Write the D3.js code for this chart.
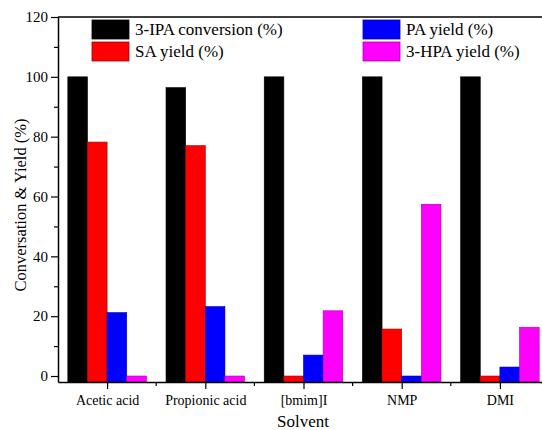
<!DOCTYPE html>
<html>
<head>
<meta charset="utf-8">
<script src="https://cdn.jsdelivr.net/npm/d3@7/dist/d3.min.js"></script>
<style>
  html, body { margin: 0; padding: 0; background: #fff; }
  svg { display: block; }
</style>
</head>
<body>
<svg id="chart" width="542" height="430" font-family="Liberation Serif"></svg>
<script>
// Solvent screening: conversion of 3-IPA and product yields
const solvents = ["Acetic acid", "Propionic acid", "[bmim]I", "NMP", "DMI"];
const seriesNames = ["3-IPA conversion (%)", "SA yield (%)", "PA yield (%)", "3-HPA yield (%)"];
const seriesColors = ["#000000", "#ff0000", "#0000ff", "#ff00ff"];
const conversion = [100, 96.4, 100, 100, 100];
const saYield = [78.2, 77.0, 0, 15.7, 0];
const paYield = [21.2, 23.2, 7.0, 0, 3.0];
const hpaYield = [0, 0, 21.8, 57.4, 16.3];
const yTicks = [0, 20, 40, 60, 80, 100, 120];

const seriesValues = [conversion, saYield, paYield, hpaYield];
const FONT = "Liberation Serif";

const svg = d3.select("#chart");
const plot = { left: 58, right: 549, top: 17, bottom: 382 };

const x = d3.scaleBand().domain(solvents).range([plot.left, plot.right]).paddingInner(0.2).paddingOuter(0.1);
const xOuter = d3.scalePoint().domain(solvents).range([plot.left, plot.right]).padding(0.5);
const xInner = d3.scaleBand().domain(seriesNames).range([0, x.bandwidth()]);
const y = d3.scaleLinear().domain([-2, 120]).range([plot.bottom, plot.top]);

// bars
const groups = svg.append("g").selectAll("g")
  .data(solvents)
  .join("g")
  .attr("transform", d => `translate(${x(d)},0)`);

groups.selectAll("rect")
  .data((d, i) => seriesNames.map((s, k) => ({ s, k, v: seriesValues[k][i] })))
  .join("rect")
  .attr("x", d => xInner(d.s))
  .attr("width", xInner.bandwidth())
  .attr("y", d => y(d.v))
  .attr("height", d => y(-2) - y(d.v))
  .attr("fill", d => seriesColors[d.k])
  .attr("stroke", d => d.k === 0 ? "#000" : d3.color(seriesColors[d.k]).darker(1.2))
  .attr("stroke-width", 0.6);

// frame top line
svg.append("line")
  .attr("x1", plot.left).attr("x2", 542)
  .attr("y1", plot.top).attr("y2", plot.top)
  .attr("stroke", "#000").attr("stroke-width", 1.5);

// y axis: minor and major ticks
const yMinor = d3.range(10, 120, 20);
svg.append("g")
  .attr("transform", `translate(${plot.left},0)`)
  .call(d3.axisLeft(y).tickValues(yMinor).tickSize(4).tickFormat(""))
  .call(g => g.select(".domain").remove())
  .selectAll("line").attr("stroke-width", 1.2);

const yAxis = svg.append("g")
  .attr("transform", `translate(${plot.left},0)`)
  .call(d3.axisLeft(y).tickValues(yTicks).tickSize(7).tickSizeOuter(0).tickPadding(3))
  .attr("font-family", FONT)
  .attr("font-size", 15);
yAxis.select(".domain").attr("stroke-width", 1.5);
yAxis.selectAll("line").attr("stroke-width", 1.2);

// x axis: category ticks and half-way minor ticks
const xMinorPos = solvents.slice(0, -1).map((d, i) => (xOuter(d) + xOuter(solvents[i + 1])) / 2);
svg.append("g")
  .selectAll("line")
  .data(xMinorPos)
  .join("line")
  .attr("x1", d => d).attr("x2", d => d)
  .attr("y1", plot.bottom).attr("y2", plot.bottom + 4)
  .attr("stroke", "#000").attr("stroke-width", 1.2);

const xAxis = svg.append("g")
  .attr("transform", `translate(0,${plot.bottom})`)
  .call(d3.axisBottom(xOuter).tickSize(7).tickSizeOuter(0).tickPadding(6))
  .attr("font-family", FONT)
  .attr("font-size", 14);
xAxis.select(".domain").attr("stroke-width", 1.5);
xAxis.selectAll("line").attr("stroke-width", 1.2);

// axis titles
svg.append("text")
  .attr("transform", "translate(26,205) rotate(-90)")
  .attr("text-anchor", "middle")
  .attr("font-family", FONT)
  .attr("font-size", 16.5)
  .text("Conversation & Yield (%)");

svg.append("text")
  .attr("x", 303).attr("y", 427)
  .attr("text-anchor", "middle")
  .attr("font-family", FONT)
  .attr("font-size", 17)
  .text("Solvent");

// legend, two columns
const legendPos = [
  { x: 92, y: 20 }, { x: 92, y: 42 },
  { x: 363, y: 20 }, { x: 363, y: 42 }
];
const legend = svg.append("g").selectAll("g")
  .data(seriesNames)
  .join("g")
  .attr("transform", (d, i) => `translate(${legendPos[i].x},${legendPos[i].y})`);
legend.append("rect")
  .attr("width", 37).attr("height", 19)
  .attr("fill", (d, i) => seriesColors[i])
  .attr("stroke", (d, i) => i === 0 ? "#000" : d3.color(seriesColors[i]).darker(1.2))
  .attr("stroke-width", 0.8);
legend.append("text")
  .attr("x", 43).attr("y", 15)
  .attr("font-family", FONT)
  .attr("font-size", 17)
  .text(d => d);
</script>
</body>
</html>
